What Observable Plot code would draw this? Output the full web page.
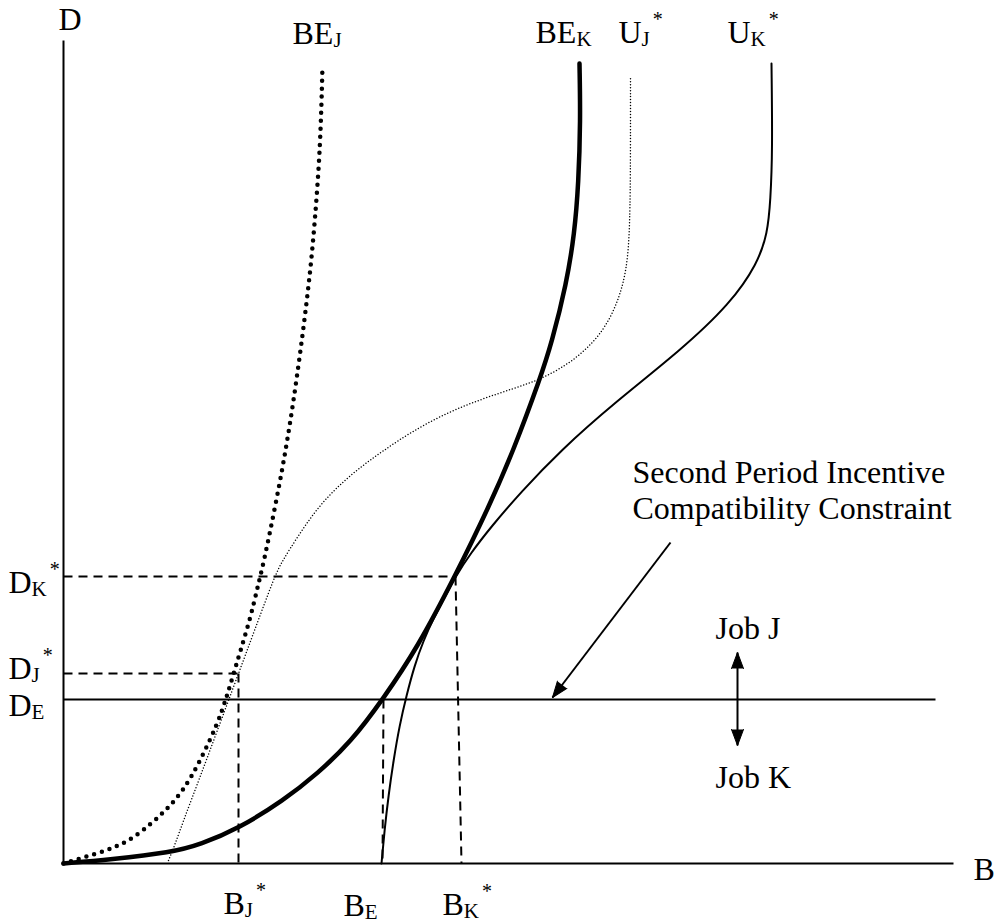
<!DOCTYPE html>
<html>
<head>
<meta charset="utf-8">
<script src="https://cdn.jsdelivr.net/npm/d3@7"></script>
<script src="https://cdn.jsdelivr.net/npm/@observablehq/plot@0.6"></script>
<style>
  html, body { margin: 0; padding: 0; background: #fff; overflow: hidden; }
  svg { display: block; }
</style>
</head>
<body>
<script>
// Coordinates: B (horizontal) and D (vertical), origin at the axes' corner.
const beJ = [[0,0],[37,11],[64,21],[88,40],[104,55],[120,73],[137,103],[154,140],[162,163],[169,186],[177,213],[187,246],[194,276],[200,300],[213,363],[224,423],[233,483],[241,543],[248,603],[253,663],[257,723],[259,798]];
const beK = [[0,0],[47,4],[108,11],[137,19],[175,35],[220,63],[254,90],[287,121],[320,165],[354,216],[392,288],[426,358],[450,413],[477,486],[488,520],[503,580],[511,630],[515,680],[517,743],[516,800]];
const uJ = [[105,3],[110,15],[120,43],[136,85],[152,128],[175,190],[191,233],[211,287],[219,303],[235,328],[252,353],[272,375],[295,395],[320,413],[350,433],[384,451],[417,464],[450,475],[477,484],[504,499],[524,515],[542,536],[555,563],[563,593],[566,628],[567,683],[567,787]];
const uK = [[318,0],[321,33],[325,68],[330,103],[336,138],[343,168],[351,198],[360,223],[370,245],[381,266],[392,287],[407,310],[427,336],[457,371],[497,413],[550,460],[617,513],[667,560],[694,600],[704,630],[707,663],[709,713],[708,800]];

// Equilibrium values
const DE = 164, DJstar = 190, DKstar = 287;
const BJstar = 175, BE = 320, BKstar = 392;
const axisTopD = 823, axisRightB = 890, constraintEndB = 872;

const dashed = [
  {x1: 0, y1: DKstar, x2: BKstar, y2: DKstar},
  {x1: BKstar, y1: DKstar, x2: BKstar + 6, y2: 0},
  {x1: 0, y1: DJstar, x2: BJstar, y2: DJstar},
  {x1: BJstar, y1: DJstar, x2: BJstar, y2: 0},
  {x1: BE, y1: DE, x2: BE - 1, y2: 0}
];
const solid = [
  {x1: 0, y1: 0, x2: 0, y2: axisTopD},
  {x1: 0, y1: 0, x2: axisRightB, y2: 0},
  {x1: 0, y1: DE, x2: constraintEndB, y2: DE}
];

const labelText = ["D","BE_J","BE_K","U_J^*","U_K^*","D_K^*","D_J^*","D_E","B_J^*","B_E","B_K^*","B","Job J","Job K","Second Period Incentive","Compatibility Constraint"];
const labelB = [-5,229,472,555,664,-55,-55,-55,160,280,379,910,652,652,569,569];
const labelD = [834,820,821,821,821,271,185,148,-50,-52,-51,-16,225,76,381,345];
const labels = labelText.map((t, i) => ({t, b: labelB[i], d: labelD[i]}));

const arrowShafts = [
  {x1: 607, y1: 321, x2: 489, y2: 166},
  {x1: 674, y1: 211, x2: 674, y2: 118}
];
const arrowHeads = [
  {b: 489, d: 166, angle: 217.3},
  {b: 674, d: 211, angle: 0},
  {b: 674, d: 118, angle: 180}
];

const font = "'Liberation Serif', 'Times New Roman', serif";

const svg = Plot.plot({
  width: 995,
  height: 924,
  margin: 0,
  x: {domain: [-63, 932], range: [0, 995], axis: null},
  y: {domain: [-61, 863], range: [924, 0], axis: null},
  style: {background: "#fff", color: "#000", fontFamily: font},
  marks: [
    Plot.link(solid, {x1: "x1", y1: "y1", x2: "x2", y2: "y2", stroke: "#000", strokeWidth: 2}),
    Plot.link(dashed, {x1: "x1", y1: "y1", x2: "x2", y2: "y2", stroke: "#000", strokeWidth: 2, strokeDasharray: "9,6"}),
    Plot.line(beJ, {x: d => d[0], y: d => d[1], curve: "basis", stroke: "#000", strokeWidth: 4.5, strokeDasharray: "0,8", strokeLinecap: "round"}),
    Plot.line(uJ, {x: d => d[0], y: d => d[1], curve: "basis", stroke: "#000", strokeWidth: 1.5, strokeDasharray: "0,3", strokeLinecap: "round"}),
    Plot.line(uK, {x: d => d[0], y: d => d[1], curve: "basis", stroke: "#000", strokeWidth: 2}),
    Plot.line(beK, {x: d => d[0], y: d => d[1], curve: "basis", stroke: "#000", strokeWidth: 4.5}),
    Plot.link(arrowShafts, {x1: "x1", y1: "y1", x2: "x2", y2: "y2", stroke: "#000", strokeWidth: 2}),
    Plot.vector(arrowHeads, {x: "b", y: "d", rotate: "angle", length: 16, r: 6, shape: "spike", anchor: "end", fill: "#000", stroke: "#000", strokeWidth: 1}),
    Plot.text(labels, {x: "b", y: "d", text: "t", textAnchor: "start", lineAnchor: "bottom", fontSize: 32, fontFamily: font, fill: "#000"})
  ]
});

// Turn "_x" into subscripts and "^x" into superscripts, keeping real text.
const ns = "http://www.w3.org/2000/svg";
svg.querySelectorAll("text").forEach(t => {
  const s = t.textContent;
  const m = s.match(/^([^_^]+)(?:_([^^]+))?(?:\^(.+))?$/);
  if (!m || (!m[2] && !m[3])) return;
  t.textContent = "";
  const a = document.createElementNS(ns, "tspan");
  a.textContent = m[1];
  t.append(a);
  let shift = 0;
  if (m[2]) {
    const b = document.createElementNS(ns, "tspan");
    b.setAttribute("font-size", "21");
    b.setAttribute("dy", "3");
    b.textContent = m[2];
    t.append(b);
    shift = 3;
  }
  if (m[3]) {
    const c = document.createElementNS(ns, "tspan");
    c.setAttribute("font-size", "20");
    c.setAttribute("dx", "3");
    c.setAttribute("dy", String(-17 - shift));
    c.textContent = m[3];
    t.append(c);
  }
});

document.body.append(svg);
</script>
</body>
</html>
